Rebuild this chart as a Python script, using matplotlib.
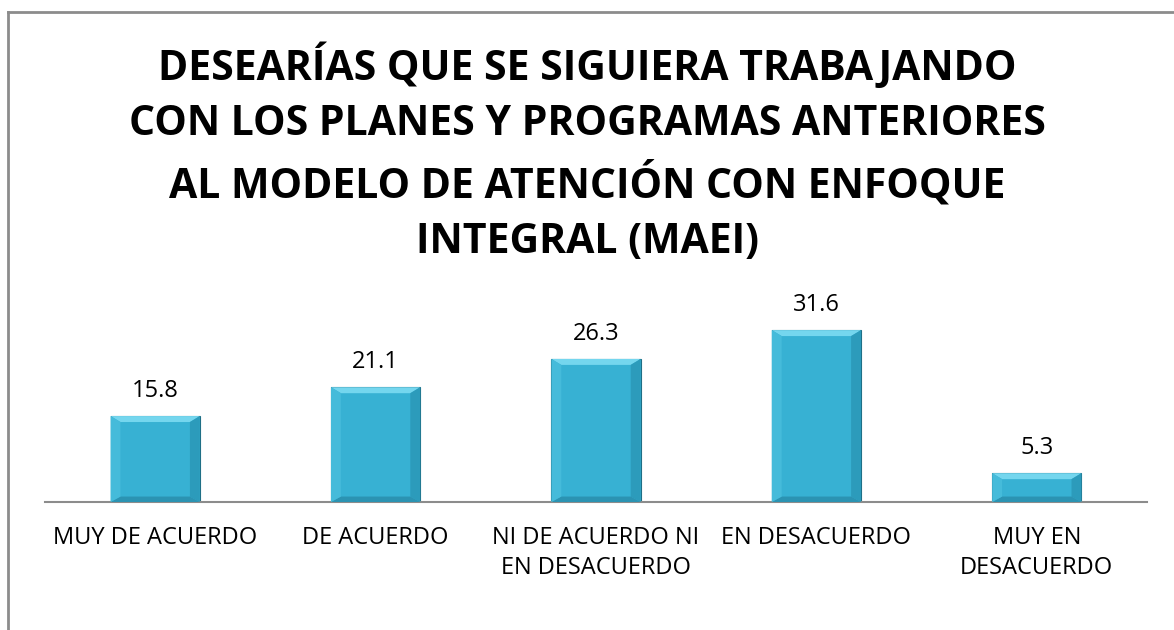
import matplotlib
matplotlib.use("Agg")
import matplotlib.pyplot as plt
from matplotlib.lines import Line2D

categories = ["MUY DE ACUERDO", "DE ACUERDO", "NI DE ACUERDO NI\nEN DESACUERDO",
              "EN DESACUERDO", "MUY EN\nDESACUERDO"]
values = [15.8, 21.1, 26.3, 31.6, 5.3]
title = ("DESEARÍAS QUE SE SIGUIERA TRABAJANDO\n"
         "CON LOS PLANES Y PROGRAMAS ANTERIORES\n"
         "AL MODELO DE ATENCIÓN CON ENFOQUE\n"
         "INTEGRAL (MAEI)")

plt.rcParams["font.family"] = ["Open Sans", "DejaVu Sans"]
W, H = 1174, 630
fig = plt.figure(figsize=(W / 100, H / 100), dpi=100)

# chart border: only top and left visible in the crop
fig.add_artist(Line2D([8 / W, 8 / W], [0, 1 - 12 / H], color="#8C8C8C", lw=2))
fig.add_artist(Line2D([8 / W, 1], [1 - 12 / H, 1 - 12 / H], color="#8C8C8C", lw=2))

ymax = 35
ax_top = 502 - ymax * 5.44
ax = fig.add_axes([45 / W, 1 - 502 / H, 1102 / W, (502 - ax_top) / H])
x = range(len(values))
bars = ax.bar(x, values, width=0.405, color="#37B1D3", edgecolor="#1F6F86",
              linewidth=0.8, zorder=2)
for b in bars:
    bx, bw, bh = b.get_x(), b.get_width(), b.get_height()
    d = 0.045
    # bevel: light top and darker bottom/right
    ax.fill([bx, bx + bw, bx + bw - d, bx + d],
            [bh, bh, bh - 1.1, bh - 1.1], color="#74D6EE", zorder=3, lw=0)
    ax.fill([bx + bw, bx + bw, bx + bw - d, bx + bw - d],
            [bh, 0, 1.0, bh - 1.1], color="#2C9BBB", zorder=3, lw=0)
    ax.fill([bx, bx + bw, bx + bw - d, bx + d],
            [0, 0, 1.0, 1.0], color="#2B93B2", zorder=3, lw=0)
    ax.fill([bx, bx, bx + d, bx + d],
            [0, bh, bh - 1.1, 1.0], color="#45BBDA", zorder=3, lw=0)
for xi, v in zip(x, values):
    ax.text(xi, v + 2.4, f"{v:.1f}", ha="center", va="bottom",
            fontsize=17, color="#000000")

ax.set_xlim(-0.5, len(values) - 0.5)
ax.set_ylim(0, ymax)
ax.set_xticks(list(x))
ax.set_xticklabels(categories, fontsize=17, linespacing=1.38)
ax.tick_params(axis="x", length=0, pad=17)
ax.set_yticks([])
for s in ["top", "right", "left"]:
    ax.spines[s].set_visible(False)
ax.spines["bottom"].set_color("#8C8C8C")
ax.spines["bottom"].set_linewidth(1.5)
ax.patch.set_alpha(0)

fig.text(0.5, 1 - 43 / H, title, ha="center", va="top", fontsize=29.5,
         fontweight="bold", linespacing=1.47)

fig.savefig("out.png", dpi=100)
